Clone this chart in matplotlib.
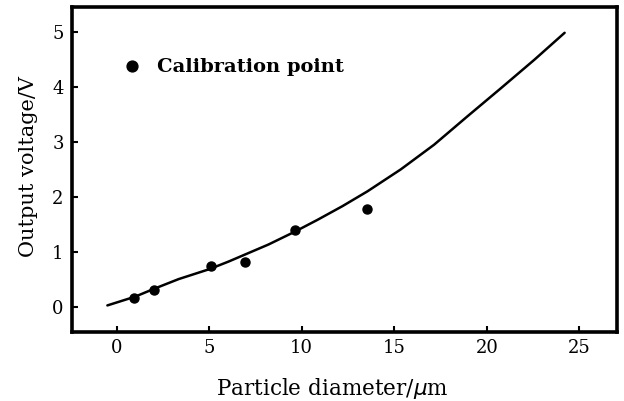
import matplotlib
matplotlib.use("Agg")
import matplotlib.pyplot as plt
import numpy as np

# ── Data ────────────────────────────────────────────────────────────────────
# calibration points
diam_pts = [0.95, 2.0, 5.1, 6.95, 9.65, 13.55]
volt_pts = [0.16, 0.31, 0.73, 0.82, 1.39, 1.77]

# fitted response curve
diam_curve = [-0.5, 1.0, 2.0, 3.35, 5.0, 6.05, 8.2, 9.6, 10.85, 12.2, 13.55,
              15.35, 17.15, 18.96, 20.76, 22.57, 24.2]
volt_curve = [0.02, 0.18, 0.32, 0.50, 0.68, 0.82, 1.13, 1.36, 1.58, 1.83, 2.10,
              2.50, 2.95, 3.47, 3.98, 4.50, 4.99]

x_ticks = [0, 5, 10, 15, 20, 25]
y_ticks = [0, 1, 2, 3, 4, 5]

# ── Plot ─────────────────────────────────────────────────────────────────────
plt.rcParams.update({
    "font.family": "DejaVu Serif",
    "font.size": 13,
})

fig = plt.figure(figsize=(6.24, 4.01), dpi=100)
ax = fig.add_axes([0.1154, 0.172, 0.8734, 0.8105])

ax.plot(diam_curve, volt_curve, color="black", linewidth=1.8,
        solid_joinstyle="round", solid_capstyle="round")
ax.plot(diam_pts, volt_pts, linestyle="none", marker="o", markersize=6.5,
        color="black", label="Calibration point")

ax.set_xlim(-2.41, 27.03)
ax.set_ylim(-0.465, 5.46)
ax.set_xticks(x_ticks)
ax.set_yticks(y_ticks)

for side in ax.spines.values():
    side.set_linewidth(2.6)
ax.tick_params(direction="in", length=4, width=1.5, labelsize=13)
ax.tick_params(axis="x", pad=5)
ax.tick_params(axis="y", pad=6)

ax.set_xlabel(r"Particle diameter/$\mu$m", fontsize=15.5)
ax.set_ylabel("Output voltage/V", fontsize=15)
ax.xaxis.set_label_coords(0.477, -0.135)
ax.yaxis.set_label_coords(-0.063, 0.51)

ax.legend(loc="center left", bbox_to_anchor=(0.0917, 0.8145),
          frameon=False, handlelength=1.0, handletextpad=0.8,
          borderpad=0, borderaxespad=0, markerscale=1.2,
          prop={"weight": "bold", "size": 14})

fig.savefig("out.png", dpi=100)
plt.close(fig)
